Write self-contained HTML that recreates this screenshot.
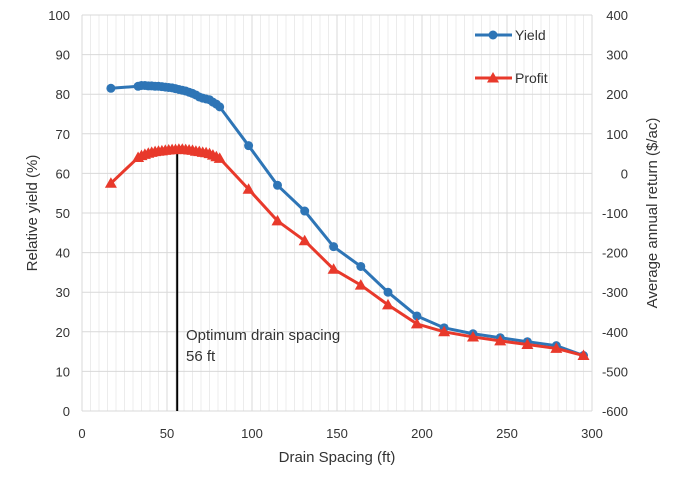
<!DOCTYPE html>
<html><head><meta charset="utf-8"><style>
body{margin:0;background:#fff;}
text{font-family:"Liberation Sans",sans-serif;fill:#333;}
</style></head><body>
<svg id="c" width="682" height="475"></svg>
<script>
const yieldX=[17,33,35,37,39,41,43,45,47,49,51,53,55,57,59,61,63,65,67,69,71,73,75,77,79,81,98,115,131,148,164,180,197,213,230,246,262,279,295];
const yieldY=[81.5,82,82.2,82.2,82.1,82.1,82,82,81.9,81.8,81.7,81.6,81.4,81.2,81,80.8,80.5,80.2,79.8,79.3,79,78.8,78.6,78,77.5,76.8,67,57,50.5,41.5,36.5,30,24,21,19.5,18.5,17.5,16.5,14];
const profitX=[17,33,35,37,39,41,43,45,47,49,51,53,55,57,59,61,63,65,67,69,71,73,75,77,79,81,98,115,131,148,164,180,197,213,230,246,262,279,295];
const profitY=[-25,40,45,48,51,53,55,56,57,58,59,60,60,61,61,60,59,58,56,55,53,52,50,46,42,38,-40,-120,-170,-242,-282,-332,-380,-400,-413,-423,-432,-442,-460];
const xTicks=[0,50,100,150,200,250,300];
const yLeftTicks=[0,10,20,30,40,50,60,70,80,90,100];
const yRightTicks=[-600,-500,-400,-300,-200,-100,0,100,200,300,400];
const NS="http://www.w3.org/2000/svg";
const svg=document.getElementById('c');
const X0=82,X1=592,Y0=411,Y1=15;
const sx=v=>X0+(v/300)*(X1-X0);
const sy=v=>Y0-(v/100)*(Y0-Y1);
const sr=v=>Y0-((v+600)/1000)*(Y0-Y1);
function mk(t,a,name){const e=document.createElementNS(NS,t);for(const k in a)e.setAttribute(k,a[k]);


svg.appendChild(e);return e;}
for(let v=5;v<300;v+=5){if(v%50)mk('line',{x1:sx(v),x2:sx(v),y1:Y1,y2:Y0,stroke:'#ececec','stroke-width':1},'minor-gridline');}
yLeftTicks.forEach(v=>{mk('line',{x1:X0,x2:X1,y1:sy(v),y2:sy(v),stroke:'#d9d9d9','stroke-width':1},'h-gridline');
const t=mk('text',{x:X0-12,y:sy(v)+5,'text-anchor':'end','font-size':13},'y-left-tick');t.textContent=v;});
yRightTicks.forEach(v=>{const t=mk('text',{x:X1+36,y:sr(v)+5,'text-anchor':'end','font-size':13},'y-right-tick');t.textContent=v;});
xTicks.forEach(v=>{mk('line',{x1:sx(v),x2:sx(v),y1:Y1,y2:Y0,stroke:'#d9d9d9','stroke-width':1},'v-gridline');
const t=mk('text',{x:sx(v),y:Y0+27,'text-anchor':'middle','font-size':13},'x-tick');t.textContent=v;});
mk('line',{x1:sx(56),x2:sx(56),y1:sr(60),y2:Y0,stroke:'#000','stroke-width':2},'optimum-line');
mk('polyline',{points:yieldX.map((x,i)=>sx(x)+','+sy(yieldY[i])).join(' '),fill:'none',stroke:'#2e75b6','stroke-width':3},'yield-line');
yieldX.forEach((x,i)=>mk('circle',{cx:sx(x),cy:sy(yieldY[i]),r:4.5,fill:'#2e75b6'},'yield-point'));
mk('polyline',{points:profitX.map((x,i)=>sx(x)+','+sr(profitY[i])).join(' '),fill:'none',stroke:'#e8392b','stroke-width':3},'profit-line');
const tri=(cx,cy,n)=>mk('polygon',{points:`${cx},${cy-6} ${cx-6},${cy+4.5} ${cx+6},${cy+4.5}`,fill:'#e8392b'},n);
profitX.forEach((x,i)=>tri(sx(x),sr(profitY[i]),'profit-point'));
mk('line',{x1:475,x2:512,y1:35,y2:35,stroke:'#2e75b6','stroke-width':3},'legend-yield-line');
mk('circle',{cx:493,cy:35,r:4.5,fill:'#2e75b6'},'legend-yield-marker');
let t=mk('text',{x:515,y:40,'font-size':14},'legend-yield-label');t.textContent='Yield';
mk('line',{x1:475,x2:512,y1:78,y2:78,stroke:'#e8392b','stroke-width':3},'legend-profit-line');
tri(493,78,'legend-profit-marker');
t=mk('text',{x:515,y:83,'font-size':14},'legend-profit-label');t.textContent='Profit';
t=mk('text',{x:186,y:340,'font-size':15},'annotation-line1');t.textContent='Optimum drain spacing';
t=mk('text',{x:186,y:361,'font-size':15},'annotation-line2');t.textContent='56 ft';
t=mk('text',{x:337,y:462,'text-anchor':'middle','font-size':15},'x-axis-title');t.textContent='Drain Spacing (ft)';
t=mk('text',{x:0,y:0,'text-anchor':'middle','font-size':15,transform:'translate(37,213) rotate(-90)'},'y-left-title');t.textContent='Relative yield (%)';
t=mk('text',{x:0,y:0,'text-anchor':'middle','font-size':15,transform:'translate(657,213) rotate(-90)'},'y-right-title');t.textContent='Average annual return ($/ac)';
</script>
</body></html>
